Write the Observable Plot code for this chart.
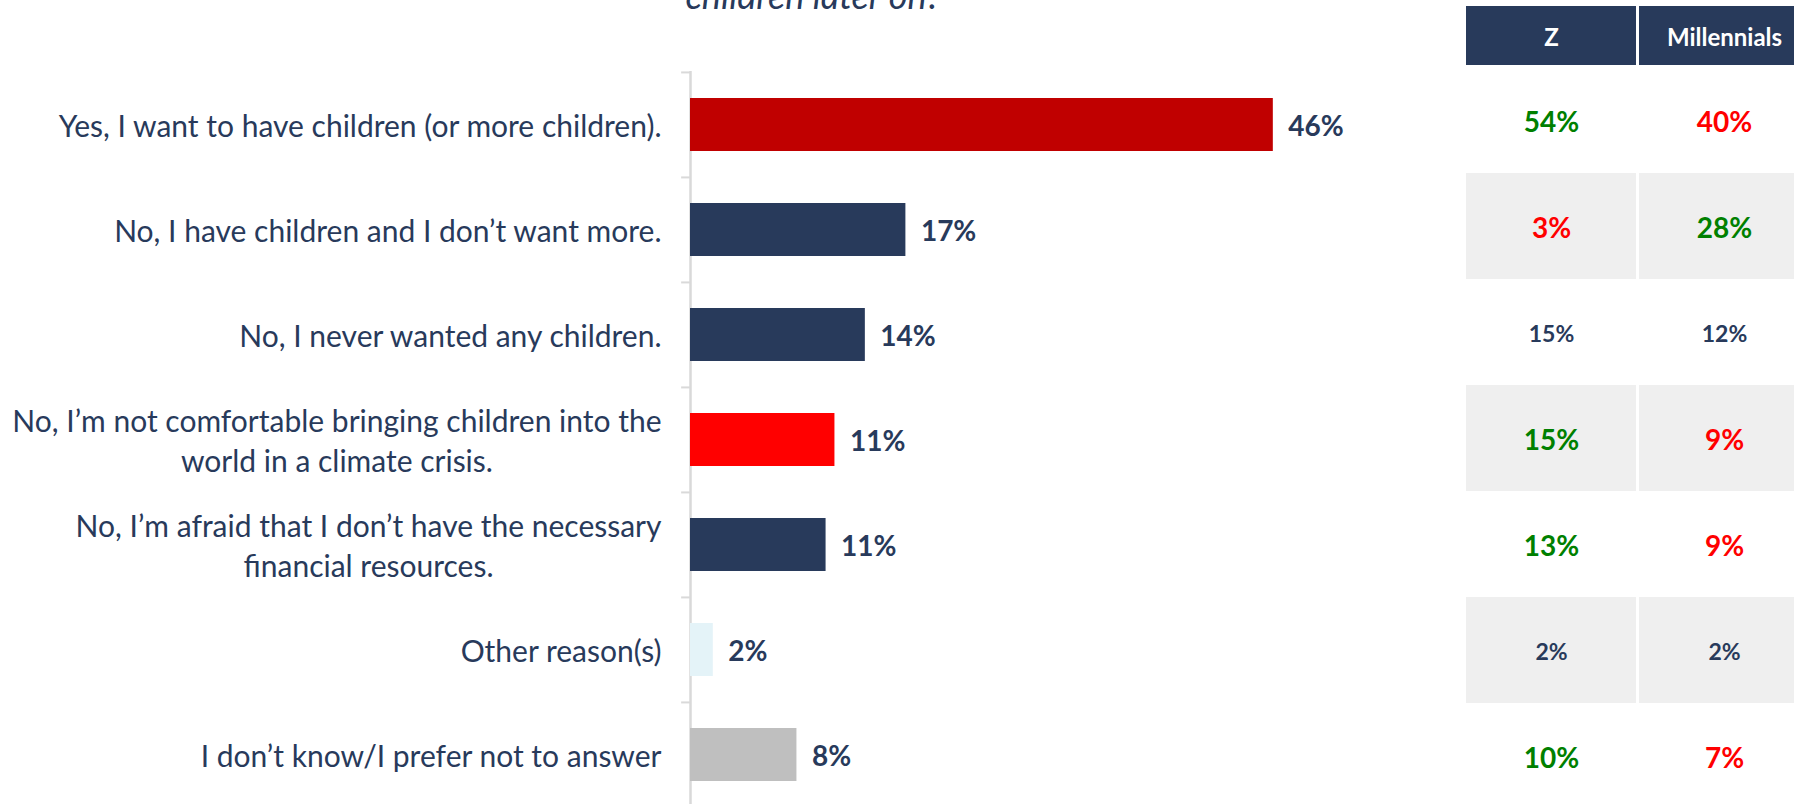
<!DOCTYPE html>
<html><head><meta charset="utf-8">
<script src="https://cdn.jsdelivr.net/npm/d3@7"></script>
<script src="https://cdn.jsdelivr.net/npm/@observablehq/plot@0.6"></script>
<style>
html,body{margin:0;padding:0;background:#fff;overflow:hidden;}
#wrap{position:relative;width:1794px;height:804px;overflow:hidden;}
#chart{position:absolute;left:0;top:0;}
#head{position:absolute;left:1440px;top:0;}
#table{position:absolute;left:1440px;top:65px;}
</style></head><body>
<div id="wrap"><div id="chart"></div><div id="head"></div><div id="table"></div></div>
<script>
// ---- data ----
const titleTail = "children later on?";
const categories = ["yes", "haveNoMore", "never", "climate", "financial", "other", "dontKnow"];
const labels = [
  "Yes, I want to have children (or more children).",
  "No, I have children and I don\u2019t want more.",
  "No, I never wanted any children.",
  "No, I\u2019m not comfortable bringing children into the\nworld in a climate crisis.",
  "No, I\u2019m afraid that I don\u2019t have the necessary\nfinancial resources.",
  "Other reason(s)",
  "I don\u2019t know/I prefer not to answer"
];
const totals = [46, 17, 13.8, 11.4, 10.7, 1.8, 8.4];
const columns = ["Z", "Millennials"];
const genZ = [54, 3, 15, 15, 13, 2, 10];
const millennials = [40, 28, 12, 9, 9, 2, 7];
const significant = [true, true, false, true, true, false, true];

// ---- styles ----
const NAVY = "#283a5b";
const GREEN = "#008000";
const RED = "#ff0000";
const barColors = ["#c00000", NAVY, NAVY, "#ff0000", NAVY, "#e4f3f8", "#bfbfbf"];
const FONT = "Lato, 'Open Sans', sans-serif";

const rows = categories.map((c, i) => ({category: c, label: labels[i], value: totals[i], color: barColors[i]}));
const yTop = 71, yBottom = 807.2;
const step = (yBottom - yTop) / categories.length;
const titleSize = 36;

const chart = Plot.plot({
  width: 1440, height: 804,
  marginTop: yTop, marginBottom: 0, marginLeft: 0, marginRight: 0,
  style: {fontFamily: FONT, background: "transparent", overflow: "visible"},
  x: {domain: [0, 50], range: [690, 1323.5], axis: null},
  y: {domain: categories, range: [yTop, yBottom], paddingInner: 0.5, paddingOuter: 0.25, axis: null},
  color: {type: "identity"},
  marks: [
    Plot.ruleX([0], {stroke: "#d9d9d9", strokeWidth: 2.5}),
    Plot.ruleY(categories, {y: d => d, x1: -0.7, x2: 0, dy: -step / 2, stroke: "#d9d9d9", strokeWidth: 2}),
    Plot.barX(rows, {x: "value", y: "category", fill: "color"}),
    Plot.text(rows, {x: "value", y: "category", text: d => Math.round(d.value) + "%", dx: 15, dy: 2,
      textAnchor: "start", fill: NAVY, fontSize: 28, fontWeight: "bold"}),
    Plot.text(rows, {x: 0, y: "category", text: "label", textAnchor: "end", dx: -29, dy: -1,
      fill: NAVY, fontSize: 30, lineHeight: 1.33}),
    Plot.text([titleTail], {x: 0, frameAnchor: "top", text: d => d, dx: -5, dy: 8.5 - yTop - 0.32 * titleSize,
      lineAnchor: "middle", textAnchor: "start", fill: NAVY, fontSize: titleSize, fontStyle: "italic"})
  ]
});
document.getElementById("chart").append(chart);
// centre the lines of two-line category labels inside their right-aligned block
function centreLines() {
  chart.querySelectorAll("text").forEach(t => {
    const spans = t.querySelectorAll("tspan");
    if (spans.length > 1) {
      t.setAttribute("text-anchor", "end");
      spans.forEach(s => s.setAttribute("x", 0));
      const w = Math.max(...Array.from(spans, s => s.getComputedTextLength()));
      t.setAttribute("text-anchor", "middle");
      spans.forEach(s => s.setAttribute("x", -w / 2));
    }
  });
}
centreLines();
if (document.fonts && document.fonts.ready) document.fonts.ready.then(centreLines);

// ---- table ----
const xTable = {domain: columns, range: [26, 369], paddingInner: 0.0175, paddingOuter: 0, axis: null};
const head = Plot.plot({
  width: 354, height: 65, marginTop: 6, marginBottom: 0, marginLeft: 0, marginRight: 0,
  style: {fontFamily: FONT, background: "transparent"},
  x: xTable,
  marks: [
    Plot.cell(columns, {x: d => d, fill: NAVY}),
    Plot.text(columns, {x: d => d, frameAnchor: "middle", text: d => d, dy: 2, fill: "white", fontWeight: "bold", fontSize: 24})
  ]
});
document.getElementById("head").append(head);

const cells = [];
categories.forEach((c, i) => {
  columns.forEach((col, j) => {
    const v = j === 0 ? genZ[i] : millennials[i];
    const other = j === 0 ? millennials[i] : genZ[i];
    cells.push({
      category: c, col, value: v, shade: i % 2 === 1, big: significant[i],
      color: significant[i] ? (v > other ? GREEN : RED) : NAVY
    });
  });
});
const table = Plot.plot({
  width: 354, height: 739, marginTop: 0, marginBottom: 0, marginLeft: 0, marginRight: 0,
  style: {fontFamily: FONT, background: "transparent"},
  x: xTable,
  y: {domain: categories, range: [0, 745.5], padding: 0, axis: null},
  color: {type: "identity"},
  marks: [
    Plot.cell(cells.filter(d => d.shade), {x: "col", y: "category", fill: "#efefef"}),
    Plot.text(cells.filter(d => d.big), {x: "col", y: "category", text: d => d.value + "%", fill: "color",
      fontSize: 28, fontWeight: "bold", dy: 3}),
    Plot.text(cells.filter(d => !d.big), {x: "col", y: "category", text: d => d.value + "%", fill: "color",
      fontSize: 23, fontWeight: "bold", dy: 2})
  ]
});
document.getElementById("table").append(table);
</script>
</body></html>
